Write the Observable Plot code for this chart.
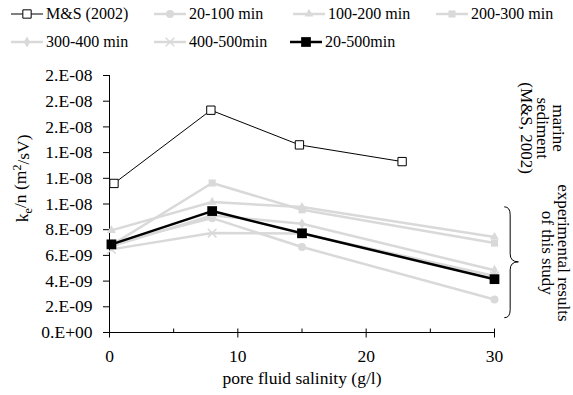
<!DOCTYPE html>
<html><head><meta charset="utf-8">
<script src="https://cdn.jsdelivr.net/npm/d3@7"></script>
<script src="https://cdn.jsdelivr.net/npm/@observablehq/plot@0.6"></script>
<style>
body{margin:0;background:#fff;font-family:'Liberation Serif',serif;}
#legend{position:relative;width:573px;height:56px;font-size:16px;color:#000;font-family:'Liberation Serif',serif;}
.item{position:absolute;display:flex;align-items:center;height:20px;white-space:nowrap;line-height:20px;}
.item span{font-family:'Liberation Serif',serif;font-size:16px;}
.item svg{margin-right:3px;display:block}
</style></head><body>
<div id="legend"></div>
<div id="chart"></div>
<script>
// ---- data ----
const seriesNames = ["M&S (2002)", "20-100 min", "100-200 min", "200-300 min", "300-400 min", "400-500min", "20-500min"];
const salinity = [0.15, 8, 15, 30];
const msSalinity = [0.35, 7.9, 14.8, 22.8];
const msValues = [11.6e-9, 17.3e-9, 14.6e-9, 13.3e-9];
const min20_100 = [6.9e-9, 8.9e-9, 6.65e-9, 2.57e-9];
const min100_200 = [7.95e-9, 10.15e-9, 9.76e-9, 7.43e-9];
const min200_300 = [6.8e-9, 11.63e-9, 9.55e-9, 6.96e-9];
const min300_400 = [6.7e-9, 9.1e-9, 8.47e-9, 4.84e-9];
const min400_500 = [6.47e-9, 7.74e-9, 7.7e-9, 4.4e-9];
const min20_500 = [6.86e-9, 9.45e-9, 7.72e-9, 4.15e-9];
const xTicks = [0, 10, 20, 30];
const xMinorTicks = [5, 15, 25];
const yTicks = [0, 2e-9, 4e-9, 6e-9, 8e-9, 1e-8, 1.2e-8, 1.4e-8, 1.6e-8, 1.8e-8, 2e-8];
const yTickLabels = ["0.E+00", "2.E-09", "4.E-09", "6.E-09", "8.E-09", "1.E-08", "1.E-08", "1.E-08", "2.E-08", "2.E-08", "2.E-08"];
const xTitle = "pore fluid salinity (g/l)";
const noteTexts = ["marine\nsediment\n(M&S, 2002)", "experimental results\nof this study"];
const noteX = [33.7, 34.7];
const noteY = [15.9e-9, 6.2e-9];
const braceX = [30.8, 31.26, 31.9];
const braceY = [9.74e-9, 5.46e-9, 1.11e-9];

// ---- styles ----
const gray = "#d9d9d9";
const series = [
  {name: seriesNames[1], xs: salinity, ys: min20_100, symbol: "circle", color: gray, lw: 2.5, r: 4, fill: gray},
  {name: seriesNames[2], xs: salinity, ys: min100_200, symbol: "triangle", color: gray, lw: 2.5, r: 3.3, fill: gray},
  {name: seriesNames[3], xs: salinity, ys: min200_300, symbol: "square", color: gray, lw: 2.5, r: 4, fill: gray},
  {name: seriesNames[4], xs: salinity, ys: min300_400, symbol: "diamond", color: gray, lw: 2.5, r: 3.3, fill: gray},
  {name: seriesNames[5], xs: salinity, ys: min400_500, symbol: "times", color: gray, lw: 2.5, r: 4, fill: "none"},
  {name: seriesNames[0], xs: msSalinity, ys: msValues, symbol: "square", color: "#000", lw: 1, r: 4.7, fill: "#fff"},
  {name: seriesNames[6], xs: salinity, ys: min20_500, symbol: "square", color: "#000", lw: 2.5, r: 5.5, fill: "#000"}
];
const rows = s => s.xs.map((x, i) => ({x, y: s.ys[i]}));

const tickMajor = {draw(ctx){ ctx.moveTo(0, -4); ctx.lineTo(0, 5); }};
const tickMinor = {draw(ctx){ ctx.moveTo(0, -4); ctx.lineTo(0, 0); }};

const marks = [
  Plot.ruleX([0], {y1: 0, y2: 2e-8, stroke: "#000", strokeWidth: 1}),
  Plot.axisY({ticks: yTicks, tickFormat: d => yTickLabels[yTicks.indexOf(d)], tickSize: 6, tickPadding: 11, label: null, stroke: "#000", fill: "#000"}),
  Plot.axisX({ticks: xTicks, tickSize: 0, tickPadding: 17, label: null, fill: "#000"}),
  Plot.dot(xTicks, {x: d => d, y: () => 0, symbol: tickMajor, fill: "none", stroke: "#000", strokeWidth: 1}),
  Plot.dot(xMinorTicks, {x: d => d, y: () => 0, symbol: tickMinor, fill: "none", stroke: "#000", strokeWidth: 1}),
  Plot.ruleY([0], {x1: 0, x2: 30, stroke: "#000", strokeWidth: 1.2}),
];
for (const s of series) {
  marks.push(Plot.line(rows(s), {x: "x", y: "y", stroke: s.color, strokeWidth: s.lw}));
  if (s.symbol === "times") {
    marks.push(Plot.dot(rows(s), {x: "x", y: "y", symbol: s.symbol, r: s.r, stroke: s.color, strokeWidth: 1.5, fill: "none"}));
  } else {
    marks.push(Plot.dot(rows(s), {x: "x", y: "y", symbol: s.symbol, r: s.r, fill: s.fill, stroke: s.fill === "#fff" ? "#000" : "none", strokeWidth: 1}));
  }
}
marks.push(Plot.text([xTitle], {frameAnchor: "bottom", dy: 46, lineAnchor: "middle", fontSize: 17.5, fill: "#000"}));
marks.push(Plot.text(noteTexts, {x: (d, i) => noteX[i], y: (d, i) => noteY[i], rotate: 90, lineHeight: 0.92, fontSize: 17, textAnchor: "middle", lineAnchor: "middle", fill: "#000"}));
marks.push(Plot.text(["YLABEL"], {frameAnchor: "left", y: () => 1.2e-8, dx: -87, rotate: -90, textAnchor: "middle", lineAnchor: "middle", fontSize: 17.5, fill: "#000"}));

const chart = Plot.plot({
  width: 573, height: 339,
  marginLeft: 109, marginRight: 79, marginTop: 19, marginBottom: 63,
  x: {domain: [0, 30]},
  y: {domain: [0, 2e-8]},
  style: {fontFamily: "Liberation Serif", fontSize: "17.5px", color: "#000", background: "#fff", overflow: "visible"},
  marks
});
document.getElementById("chart").appendChild(chart);

// y label with subscript / superscript
d3.select(chart).selectAll("text").filter(function(){ return this.textContent === "YLABEL"; }).each(function(){
  const t = d3.select(this);
  t.text(null);
  t.append("tspan").text("k");
  t.append("tspan").attr("font-size", 12).attr("dy", "0.3em").text("e");
  t.append("tspan").attr("dy", "-0.3em").text("/n (m");
  t.append("tspan").attr("font-size", 12).attr("dy", "-0.45em").text("2");
  t.append("tspan").attr("dy", "0.45em").text("/sV)");
});

// brace built from scales
const sx = chart.scale("x"), sy = chart.scale("y");
const bx0 = sx.apply(braceX[0]), bx1 = sx.apply(braceX[1]), bx2 = sx.apply(braceX[2]);
const byT = sy.apply(braceY[0]), byM = sy.apply(braceY[1]), byB = sy.apply(braceY[2]);
const rr = 8;
d3.select(chart).append("path")
  .attr("fill", "none").attr("stroke", "#000").attr("stroke-width", 1)
  .attr("d", `M${bx0},${byT} Q${bx1},${byT} ${bx1},${byT + rr} L${bx1},${byM - rr} Q${bx1},${byM} ${bx2},${byM} Q${bx1},${byM} ${bx1},${byM + rr} L${bx1},${byB - rr} Q${bx1},${byB} ${bx0},${byB}`);

// legend
const legendOrder = [5, 0, 1, 2, 3, 4, 6];
const legendPos = [[11, 4], [154, 4], [293, 4], [436, 4], [11, 32], [154, 32], [290, 32]];
const symMap = {circle: d3.symbolCircle, triangle: d3.symbolTriangle, square: d3.symbolSquare, diamond: d3.symbolDiamond, times: d3.symbolTimes};
const legend = d3.select("#legend");
legendOrder.forEach((si, k) => {
  const s = series[si];
  const item = legend.append("div").attr("class", "item").style("left", legendPos[k][0] + "px").style("top", legendPos[k][1] + "px");
  const sv = item.append("svg").attr("width", 32).attr("height", 20);
  sv.append("line").attr("x1", 0).attr("x2", 32).attr("y1", 10).attr("y2", 10).attr("stroke", s.color).attr("stroke-width", s.lw);
  const p = sv.append("path").attr("transform", "translate(16,10)").attr("d", d3.symbol(symMap[s.symbol], Math.PI * s.r * s.r)());
  if (s.symbol === "times") p.attr("fill", "none").attr("stroke", s.color).attr("stroke-width", 1.5);
  else p.attr("fill", s.fill).attr("stroke", s.fill === "#fff" ? "#000" : "none");
  item.append("span").text(s.name);
});
</script>
</body></html>
